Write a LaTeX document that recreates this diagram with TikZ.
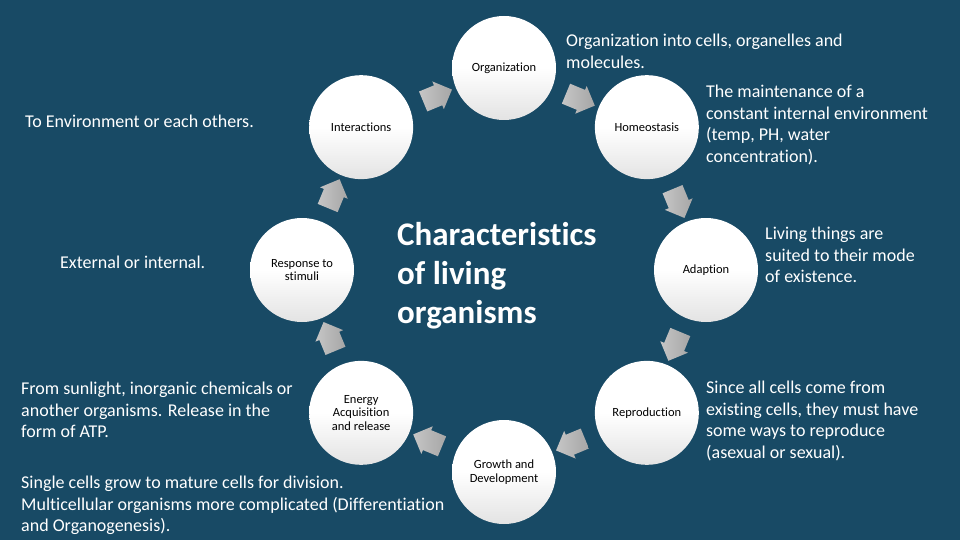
\documentclass[tikz,border=0pt]{standalone}
\usepackage{fontspec}
\setmainfont[Ligatures=NoCommon]{Carlito}
\usetikzlibrary{shapes.arrows,calc}
\definecolor{bg}{HTML}{184A65}
\begin{document}
\begin{tikzpicture}[x=1pt,y=-1pt,
  stage/.style={circle, minimum size=104pt, inner sep=0pt, top color=white, bottom color=gray!22, middle color=white, align=center, text=black, font=\fontsize{12.5}{13.5}\selectfont},
  flow/.style={single arrow, minimum height=30pt, minimum width=30pt, single arrow head extend=4pt, inner sep=10pt, left color=gray!45, right color=gray!70},
  note/.style={anchor=north west, inner sep=0pt, align=left, text=white, font=\fontsize{18}{21.5}\selectfont},
  title/.style={anchor=north west, inner sep=0pt, align=left, text=white, font=\fontsize{33}{39}\selectfont\bfseries}]
\fill[bg] (0,0) rectangle (960,540);
\useasboundingbox (0,0) rectangle (960,540);
% circles
\node[stage] (org) at ({504+202*cos(90)},{270-202*sin(90)}) {Organization};
\node[stage] (hom) at ({504+202*cos(45)},{270-202*sin(45)}) {Homeostasis};
\node[stage] (ada) at ({504+202*cos(0)},{270-202*sin(0)}) {Adaption};
\node[stage] (rep) at ({504+202*cos(-45)},{270-202*sin(-45)}) {Reproduction};
\node[stage] (gro) at ({504+202*cos(-90)},{270-202*sin(-90)}) {Growth and\\Development};
\node[stage] (ene) at ({504+202*cos(-135)},{270-202*sin(-135)}) {Energy\\Acquisition\\and release};
\node[stage] (res) at ({504+202*cos(180)},{270-202*sin(180)}) {Response to\\stimuli};
\node[stage] (int) at ({504+202*cos(135)},{270-202*sin(135)}) {Interactions};
% block arrows between circles (clockwise)
\node[flow, rotate=-22.5] (a1) at ($(org)!0.5!(hom)$) {};
\node[flow, rotate=-67.5] (a2) at ($(hom)!0.5!(ada)$) {};
\node[flow, rotate=-112.5] (a3) at ($(ada)!0.5!(rep)$) {};
\node[flow, rotate=-157.5] (a4) at ($(rep)!0.5!(gro)$) {};
\node[flow, rotate=157.5] (a5) at ($(gro)!0.5!(ene)$) {};
\node[flow, rotate=112.5] (a6) at ($(ene)!0.5!(res)$) {};
\node[flow, rotate=67.5] (a7) at ($(res)!0.5!(int)$) {};
\node[flow, rotate=22.5] (a8) at ($(int)!0.5!(org)$) {};
% title
\node[title] (ttl) at (397,222) {Characteristics\\of living\\organisms};
% notes
\node[note] (n1) at (566,34) {Organization into cells, organelles and\\molecules.};
\node[note] (n2) at (25,115) {To Environment or each others.};
\node[note] (n3) at (706,85) {The maintenance of a\\constant internal environment\\(temp, PH, water\\concentration).};
\node[note] (n4) at (60,256) {External or internal.};
\node[note] (n5) at (765,227) {Living things are\\suited to their mode\\of existence.};
\node[note] (n6) at (21,382) {From sunlight, inorganic chemicals or\\another organisms. Release in the\\form of ATP.};
\node[note] (n7) at (706,381) {Since all cells come from\\existing cells, they must have\\some ways to reproduce\\(asexual or sexual).};
\node[note] (n8) at (21,476) {Single cells grow to mature cells for division.\\Multicellular organisms more complicated (Differentiation\\and Organogenesis).};
\end{tikzpicture}
\end{document}
